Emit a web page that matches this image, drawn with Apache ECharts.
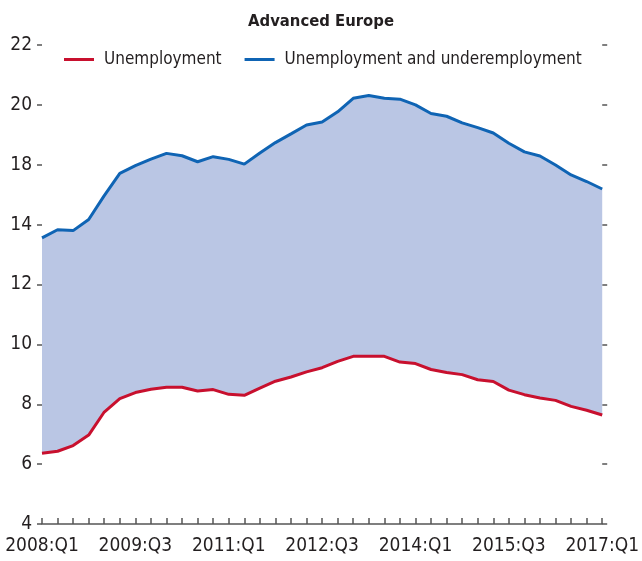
<!DOCTYPE html>
<html>
<head>
<meta charset="utf-8">
<script src="https://cdn.jsdelivr.net/npm/echarts@6/dist/echarts.min.js"></script>
<style>html,body{margin:0;padding:0;background:#fff;}#c{width:642px;height:561px;}</style>
</head>
<body>
<div id="c"></div>
<script>
var categories = ['2008:Q1','2008:Q2','2008:Q3','2008:Q4','2009:Q1','2009:Q2','2009:Q3','2009:Q4',
'2010:Q1','2010:Q2','2010:Q3','2010:Q4','2011:Q1','2011:Q2','2011:Q3','2011:Q4',
'2012:Q1','2012:Q2','2012:Q3','2012:Q4','2013:Q1','2013:Q2','2013:Q3','2013:Q4',
'2014:Q1','2014:Q2','2014:Q3','2014:Q4','2015:Q1','2015:Q2','2015:Q3','2015:Q4',
'2016:Q1','2016:Q2','2016:Q3','2016:Q4','2017:Q1'];

var unemployment = [6.36,6.43,6.62,6.97,7.74,8.19,8.39,8.50,8.57,8.57,8.44,8.49,8.33,8.30,8.54,8.77,
8.91,9.08,9.22,9.43,9.60,9.60,9.60,9.41,9.36,9.16,9.06,8.99,8.82,8.76,8.47,8.32,8.21,8.13,7.93,7.80,7.64];

var underemployment = [13.56,13.83,13.80,14.17,14.97,15.71,15.97,16.19,16.38,16.30,16.10,16.27,16.18,16.02,16.39,16.74,
17.03,17.33,17.43,17.77,18.22,18.31,18.22,18.19,18.00,17.71,17.62,17.40,17.24,17.06,16.72,16.43,16.29,15.99,15.66,15.44,15.19];

var yTickLabels = ['4','6','8','10','12','14','18','20','22'];

var FONT = "'Liberation Sans Narrow','DejaVu Sans Condensed',sans-serif";
var RED = '#c8102e', BLUE = '#0f64b4', FILL = '#bac6e4', AX = '#555';

var band = underemployment.map(function (v, i) { return +(v - unemployment[i]).toFixed(3); });

var chart = echarts.init(document.getElementById('c'));
chart.setOption({
  animation: false,
  backgroundColor: '#fff',
  title: {
    text: 'Advanced Europe', left: 'center', top: 8,
    textStyle: { fontFamily: FONT, fontSize: 16.5, fontWeight: 'bold', color: '#231f20' }
  },
  legend: {
    data: ['Unemployment', 'Unemployment and underemployment'],
    orient: 'horizontal', left: 59, top: 46, width: 580,
    itemWidth: 30, itemHeight: 3, itemGap: 23, icon: 'rect',
    textStyle: { fontFamily: FONT, fontSize: 17, color: '#231f20', padding: [0, 0, 0, 5] }
  },
  grid: { left: 42, right: 31, top: 45, bottom: 37, containLabel: false },
  xAxis: {
    type: 'category', data: categories, boundaryGap: false,
    axisLine: { show: true, lineStyle: { color: AX, width: 1.5 } },
    axisTick: { show: true, inside: true, length: 6, interval: 0, lineStyle: { color: AX, width: 1.5 } },
    axisLabel: { interval: 5, margin: 13, fontFamily: FONT, fontSize: 19, color: '#231f20' },
    splitLine: { show: false }
  },
  yAxis: [{
    type: 'value', min: 4, max: 20, interval: 2, position: 'left',
    axisLine: { show: false },
    axisTick: { show: true, length: 5, lineStyle: { color: AX, width: 1.5 } },
    axisLabel: { margin: 10, fontFamily: FONT, fontSize: 19, color: '#231f20',
      formatter: function (v) { return yTickLabels[Math.round((v - 4) / 2)]; } },
    splitLine: { show: false }
  }, {
    type: 'value', min: 4, max: 20, interval: 2, position: 'right',
    axisLine: { show: false },
    axisTick: { show: true, length: 5, lineStyle: { color: AX, width: 1.5 } },
    axisLabel: { show: false },
    splitLine: { show: false }
  }],
  series: [
    { name: 'base', type: 'line', stack: 'a', data: unemployment, symbol: 'none',
      lineStyle: { opacity: 0 }, silent: true, z: 1 },
    { name: 'band', type: 'line', stack: 'a', data: band, symbol: 'none',
      lineStyle: { opacity: 0 }, areaStyle: { color: FILL, opacity: 1 }, silent: true, z: 1 },
    { name: 'Unemployment', type: 'line', data: unemployment, symbol: 'none',
      itemStyle: { color: RED }, lineStyle: { color: RED, width: 3 }, z: 3 },
    { name: 'Unemployment and underemployment', type: 'line', data: underemployment, symbol: 'none',
      itemStyle: { color: BLUE }, lineStyle: { color: BLUE, width: 3 }, z: 3 }
  ]
});
</script>
</body>
</html>
